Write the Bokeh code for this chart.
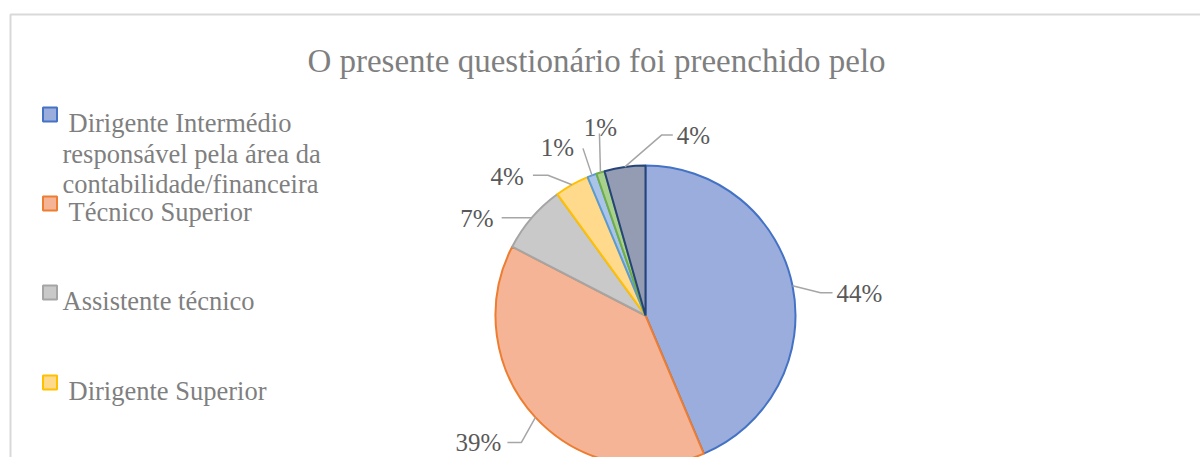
import math
from bokeh.plotting import figure
from bokeh.models import Range1d
from bokeh.core.properties import value
from bokeh.embed import file_html
from bokeh.resources import INLINE

# ---------------- data ----------------
categories = [
    "Dirigente Intermédio responsável pela área da contabilidade/financeira",
    "Técnico Superior",
    "Assistente técnico",
    "Dirigente Superior",
    "Categoria 5",
    "Categoria 6",
    "Categoria 7",
]
shares = [43.6, 38.9, 7.4, 3.7, 1.0, 0.9, 4.4]
pct_labels = ["44%", "39%", "7%", "4%", "1%", "1%", "4%"]
legend_lines = [
    ["Dirigente Intermédio", "responsável pela área da", "contabilidade/financeira"],
    ["Técnico Superior"],
    ["Assistente técnico"],
    ["Dirigente Superior"],
]
title_text = "O presente questionário foi preenchido pelo"

# ---------------- styles ----------------
fills = ["#9AADDC", "#F5B496", "#C9C9C9", "#FFD98C", "#A9C4E8", "#A9D18E", "#939CB3"]
edges = ["#4472C4", "#ED7D31", "#A5A5A5", "#FFC000", "#5B9BD5", "#70AD47", "#264478"]
FONT = value("Liberation Serif")

W, H = 1200, 457


def X(px):
    return px


def Y(py):
    return H - py


p = figure(width=W, height=H, output_backend="svg", toolbar_location=None,
           x_range=Range1d(0, W), y_range=Range1d(0, H),
           x_axis_type=None, y_axis_type=None, min_border=0)
p.grid.visible = False
p.outline_line_color = None
p.background_fill_color = "white"
p.border_fill_color = "white"

# chart-area border (continues beyond the visible window)
p.line([X(10), X(10), X(1210)], [Y(470), Y(14), Y(14)], line_color="#D9D9D9", line_width=2)

# title
p.text([X(596)], [Y(60)], text=[title_text], text_font=FONT, text_font_size=value("33px"),
       text_color="#7F7F7F", text_align="center", text_baseline="alphabetic")

# ---------------- pie ----------------
cx, cy, r = X(645), Y(315), 150
total = sum(shares)
cum = [0.0]
for s in shares:
    cum.append(cum[-1] + s / total)
starts = [math.pi / 2 - 2 * math.pi * c for c in cum[1:]]
ends = [math.pi / 2 - 2 * math.pi * c for c in cum[:-1]]
p.wedge(x=[cx] * len(shares), y=[cy] * len(shares), radius=r,
        start_angle=starts, end_angle=ends, fill_color=fills,
        line_color=edges, line_width=2)

# data labels with leader lines: offsets from the slice's edge point (screen px, dy down)
label_layout = [
    # (elbow dx, dy), (end dx, dy), (text dx, dy), align
    ((28, 7), (40, 7), (44, 7.5), "left"),
    ((-14, 25), (-28, 25), (-34, 25), "right"),
    ((-30, 0), (-30, 0), (-38, 1), "right"),
    ((-24, -9.5), (-39, -9.5), (-48, -8.5), "right"),
    ((-9, -27), (-9, -27), (-18, -28), "right"),
    ((-1, -39), (-1, -39), (0, -45), "center"),
    ((37, -32), (48, -32), (52, -31.5), "left"),
]
for i, lab in enumerate(pct_labels):
    mid = (cum[i] + cum[i + 1]) / 2 * 2 * math.pi
    ex = cx + r * math.sin(mid)
    ey = cy + r * math.cos(mid)
    (edx, edy), (ndx, ndy), (tdx, tdy), align = label_layout[i]
    p.line([ex, ex + edx, ex + ndx], [ey, ey - edy, ey - ndy], line_color="#A6A6A6", line_width=1.5)
    p.text([ex + tdx], [ey - tdy], text=[lab], text_font=FONT, text_font_size=value("25px"),
           text_color="#595959", text_align=align, text_baseline="alphabetic")

# ---------------- legend ----------------
legend_rows = [114, 203, 292, 382]  # square centre y (page px)
for i, lines in enumerate(legend_lines):
    yc = legend_rows[i]
    p.rect([X(49.5)], [Y(yc)], width=14, height=14, fill_color=fills[i],
           line_color=edges[i], line_width=2)
    for j, t in enumerate(lines):
        tx = 68 if (j == 0 and i != 2) else 62
        p.text([X(tx)], [Y(yc + 8.5 + 30.5 * j)], text=[t], text_font=FONT,
               text_font_size=value("26.5px"), text_color="#7F7F7F",
               text_align="left", text_baseline="alphabetic")

open("out.html", "w").write(file_html(p, INLINE))
